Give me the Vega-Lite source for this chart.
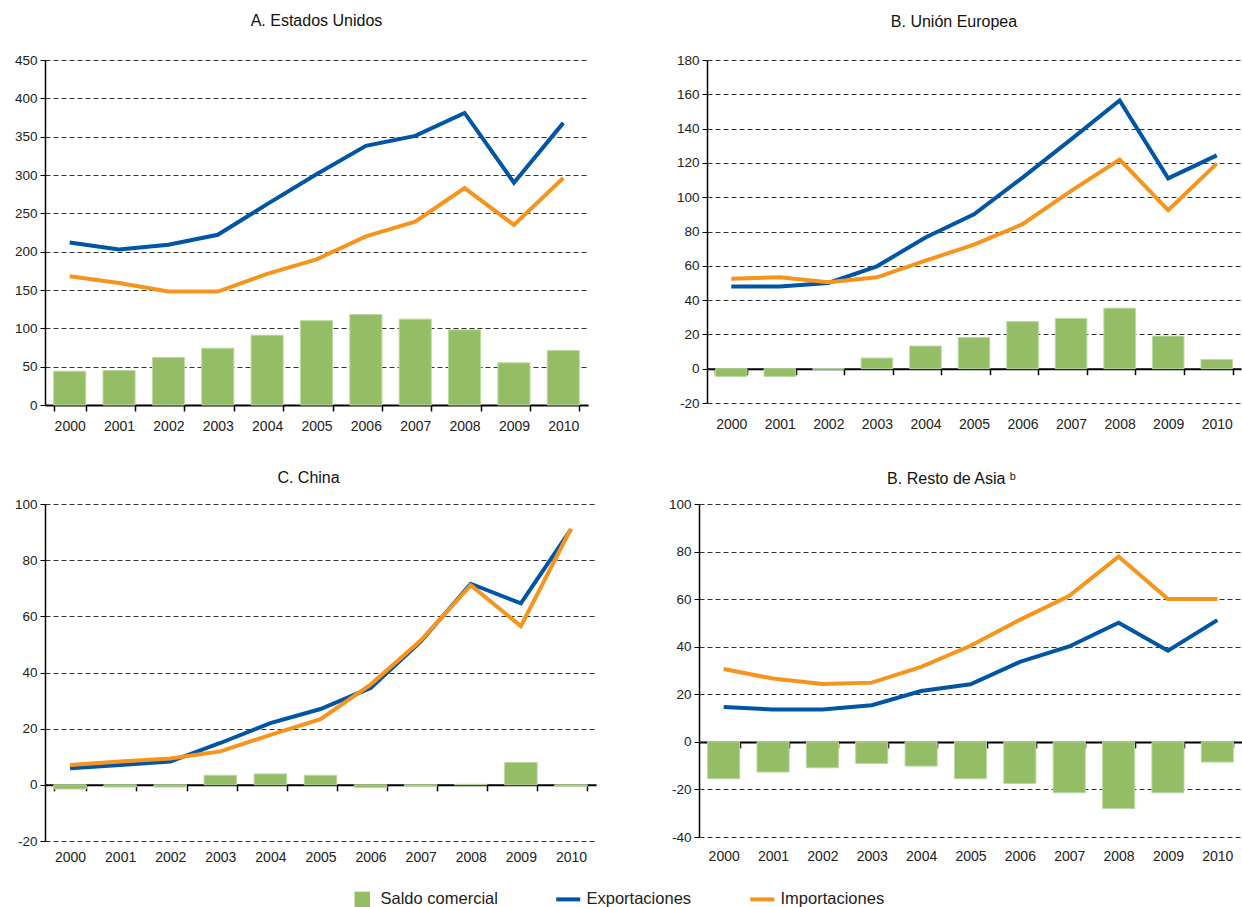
{
  "$schema": "https://vega.github.io/schema/vega-lite/v6.json",
  "background": "white",
  "padding": {"left": 14, "top": 13, "right": 0, "bottom": 5},
  "config": {
    "locale": {"number": {"decimal": ".", "thousands": ",", "grouping": [3], "currency": ["$", ""], "minus": "-"}},
    "font": "Liberation Sans",
    "view": {"stroke": null},
    "axis": {"labelFont": "Liberation Sans", "labelFontSize": 13.5, "labelColor": "#222"},
    "axisY": {"grid": true, "gridDash": [5, 3], "gridColor": "#333", "gridWidth": 1, "domainColor": "#000", "domainWidth": 1.5, "tickColor": "#000", "tickSize": 5, "labelPadding": 3},
    "axisX": {"grid": false, "domainColor": "#000", "domainWidth": 2, "tickColor": "#000", "tickWidth": 1.5, "tickSize": 6, "tickBand": "extent", "labelAngle": 0, "labelFontSize": 14, "zindex": 1},
    "title": {"font": "Liberation Sans", "fontSize": 16, "fontWeight": "normal", "color": "#111", "frame": "group", "anchor": "middle"}
  },
  "datasets": {
    "d": [
      {"p":"A","y":"2000","s":"Saldo comercial","v":44},{"p":"A","y":"2001","s":"Saldo comercial","v":45},{"p":"A","y":"2002","s":"Saldo comercial","v":62},{"p":"A","y":"2003","s":"Saldo comercial","v":74},{"p":"A","y":"2004","s":"Saldo comercial","v":91},{"p":"A","y":"2005","s":"Saldo comercial","v":110},{"p":"A","y":"2006","s":"Saldo comercial","v":118},{"p":"A","y":"2007","s":"Saldo comercial","v":112},{"p":"A","y":"2008","s":"Saldo comercial","v":98},{"p":"A","y":"2009","s":"Saldo comercial","v":55},{"p":"A","y":"2010","s":"Saldo comercial","v":71},
      {"p":"A","y":"2000","s":"Exportaciones","v":212},{"p":"A","y":"2001","s":"Exportaciones","v":203},{"p":"A","y":"2002","s":"Exportaciones","v":209},{"p":"A","y":"2003","s":"Exportaciones","v":222},{"p":"A","y":"2004","s":"Exportaciones","v":262},{"p":"A","y":"2005","s":"Exportaciones","v":301},{"p":"A","y":"2006","s":"Exportaciones","v":338},{"p":"A","y":"2007","s":"Exportaciones","v":351},{"p":"A","y":"2008","s":"Exportaciones","v":381},{"p":"A","y":"2009","s":"Exportaciones","v":290},{"p":"A","y":"2010","s":"Exportaciones","v":368},
      {"p":"A","y":"2000","s":"Importaciones","v":168},{"p":"A","y":"2001","s":"Importaciones","v":159},{"p":"A","y":"2002","s":"Importaciones","v":148},{"p":"A","y":"2003","s":"Importaciones","v":148},{"p":"A","y":"2004","s":"Importaciones","v":171},{"p":"A","y":"2005","s":"Importaciones","v":190},{"p":"A","y":"2006","s":"Importaciones","v":220},{"p":"A","y":"2007","s":"Importaciones","v":239},{"p":"A","y":"2008","s":"Importaciones","v":283},{"p":"A","y":"2009","s":"Importaciones","v":235},{"p":"A","y":"2010","s":"Importaciones","v":296},
      {"p":"B","y":"2000","s":"Saldo comercial","v":-4.5},{"p":"B","y":"2001","s":"Saldo comercial","v":-4.5},{"p":"B","y":"2002","s":"Saldo comercial","v":-0.3},{"p":"B","y":"2003","s":"Saldo comercial","v":6.2},{"p":"B","y":"2004","s":"Saldo comercial","v":13.2},{"p":"B","y":"2005","s":"Saldo comercial","v":18.2},{"p":"B","y":"2006","s":"Saldo comercial","v":27.5},{"p":"B","y":"2007","s":"Saldo comercial","v":29.3},{"p":"B","y":"2008","s":"Saldo comercial","v":35.3},{"p":"B","y":"2009","s":"Saldo comercial","v":19},{"p":"B","y":"2010","s":"Saldo comercial","v":5.4},
      {"p":"B","y":"2000","s":"Exportaciones","v":48},{"p":"B","y":"2001","s":"Exportaciones","v":48},{"p":"B","y":"2002","s":"Exportaciones","v":50},{"p":"B","y":"2003","s":"Exportaciones","v":59.7},{"p":"B","y":"2004","s":"Exportaciones","v":76.5},{"p":"B","y":"2005","s":"Exportaciones","v":90},{"p":"B","y":"2006","s":"Exportaciones","v":111.4},{"p":"B","y":"2007","s":"Exportaciones","v":133.7},{"p":"B","y":"2008","s":"Exportaciones","v":156.4},{"p":"B","y":"2009","s":"Exportaciones","v":111},{"p":"B","y":"2010","s":"Exportaciones","v":124.4},
      {"p":"B","y":"2000","s":"Importaciones","v":52.5},{"p":"B","y":"2001","s":"Importaciones","v":53.3},{"p":"B","y":"2002","s":"Importaciones","v":50.4},{"p":"B","y":"2003","s":"Importaciones","v":53.3},{"p":"B","y":"2004","s":"Importaciones","v":63},{"p":"B","y":"2005","s":"Importaciones","v":72.3},{"p":"B","y":"2006","s":"Importaciones","v":84.3},{"p":"B","y":"2007","s":"Importaciones","v":103.7},{"p":"B","y":"2008","s":"Importaciones","v":121.9},{"p":"B","y":"2009","s":"Importaciones","v":92.4},{"p":"B","y":"2010","s":"Importaciones","v":119.6},
      {"p":"C","y":"2000","s":"Saldo comercial","v":-1.5},{"p":"C","y":"2001","s":"Saldo comercial","v":-0.8},{"p":"C","y":"2002","s":"Saldo comercial","v":-0.8},{"p":"C","y":"2003","s":"Saldo comercial","v":3.4},{"p":"C","y":"2004","s":"Saldo comercial","v":3.9},{"p":"C","y":"2005","s":"Saldo comercial","v":3.4},{"p":"C","y":"2006","s":"Saldo comercial","v":-1},{"p":"C","y":"2007","s":"Saldo comercial","v":-0.5},{"p":"C","y":"2008","s":"Saldo comercial","v":0.2},{"p":"C","y":"2009","s":"Saldo comercial","v":8},{"p":"C","y":"2010","s":"Saldo comercial","v":-0.5},
      {"p":"C","y":"2000","s":"Exportaciones","v":5.9},{"p":"C","y":"2001","s":"Exportaciones","v":7.1},{"p":"C","y":"2002","s":"Exportaciones","v":8.3},{"p":"C","y":"2003","s":"Exportaciones","v":14.9},{"p":"C","y":"2004","s":"Exportaciones","v":22},{"p":"C","y":"2005","s":"Exportaciones","v":27},{"p":"C","y":"2006","s":"Exportaciones","v":34.5},{"p":"C","y":"2007","s":"Exportaciones","v":51},{"p":"C","y":"2008","s":"Exportaciones","v":71.6},{"p":"C","y":"2009","s":"Exportaciones","v":64.6},{"p":"C","y":"2010","s":"Exportaciones","v":91},
      {"p":"C","y":"2000","s":"Importaciones","v":7.1},{"p":"C","y":"2001","s":"Importaciones","v":8.3},{"p":"C","y":"2002","s":"Importaciones","v":9.4},{"p":"C","y":"2003","s":"Importaciones","v":11.9},{"p":"C","y":"2004","s":"Importaciones","v":17.8},{"p":"C","y":"2005","s":"Importaciones","v":23.4},{"p":"C","y":"2006","s":"Importaciones","v":35.7},{"p":"C","y":"2007","s":"Importaciones","v":51.4},{"p":"C","y":"2008","s":"Importaciones","v":71.1},{"p":"C","y":"2009","s":"Importaciones","v":56.5},{"p":"C","y":"2010","s":"Importaciones","v":91.2},
      {"p":"D","y":"2000","s":"Saldo comercial","v":-15.5},{"p":"D","y":"2001","s":"Saldo comercial","v":-12.7},{"p":"D","y":"2002","s":"Saldo comercial","v":-10.9},{"p":"D","y":"2003","s":"Saldo comercial","v":-9.1},{"p":"D","y":"2004","s":"Saldo comercial","v":-10.2},{"p":"D","y":"2005","s":"Saldo comercial","v":-15.5},{"p":"D","y":"2006","s":"Saldo comercial","v":-17.5},{"p":"D","y":"2007","s":"Saldo comercial","v":-21.4},{"p":"D","y":"2008","s":"Saldo comercial","v":-28},{"p":"D","y":"2009","s":"Saldo comercial","v":-21.4},{"p":"D","y":"2010","s":"Saldo comercial","v":-8.5},
      {"p":"D","y":"2000","s":"Exportaciones","v":14.7},{"p":"D","y":"2001","s":"Exportaciones","v":13.6},{"p":"D","y":"2002","s":"Exportaciones","v":13.6},{"p":"D","y":"2003","s":"Exportaciones","v":15.4},{"p":"D","y":"2004","s":"Exportaciones","v":21.4},{"p":"D","y":"2005","s":"Exportaciones","v":24.2},{"p":"D","y":"2006","s":"Exportaciones","v":33.6},{"p":"D","y":"2007","s":"Exportaciones","v":40.1},{"p":"D","y":"2008","s":"Exportaciones","v":50.1},{"p":"D","y":"2009","s":"Exportaciones","v":38.3},{"p":"D","y":"2010","s":"Exportaciones","v":51.2},
      {"p":"D","y":"2000","s":"Importaciones","v":30.6},{"p":"D","y":"2001","s":"Importaciones","v":26.6},{"p":"D","y":"2002","s":"Importaciones","v":24.3},{"p":"D","y":"2003","s":"Importaciones","v":24.9},{"p":"D","y":"2004","s":"Importaciones","v":31.5},{"p":"D","y":"2005","s":"Importaciones","v":40.4},{"p":"D","y":"2006","s":"Importaciones","v":51.3},{"p":"D","y":"2007","s":"Importaciones","v":61.4},{"p":"D","y":"2008","s":"Importaciones","v":77.9},{"p":"D","y":"2009","s":"Importaciones","v":60.1},{"p":"D","y":"2010","s":"Importaciones","v":60.1}
    ]
  },
  "data": {"name": "d"},
  "spacing": 37,
  "resolve": {"scale": {"color": "shared"}, "legend": {"color": "shared"}},
  "vconcat": [
    {
      "bounds": "flush",
      "spacing": 119,
      "hconcat": [
        {
          "title": {"text": "A. Estados Unidos", "offset": 24},
          "width": 543, "height": 345,
          "transform": [{"filter": "datum.p === 'A'"}],
          "encoding": {
            "x": {"field": "y", "type": "ordinal", "title": null, "scale": {"type": "band", "paddingInner": 0.35, "paddingOuter": 0.175}, "axis": {"offset": 0, "labelPadding": 8}},
            "y": {"field": "v", "type": "quantitative", "title": null, "scale": {"domain": [0, 450], "nice": false, "zero": false}, "axis": {"values": [0, 50, 100, 150, 200, 250, 300, 350, 400, 450]}},
            "color": {"field": "s", "type": "nominal", "scale": {"domain": ["Saldo comercial", "Exportaciones", "Importaciones"], "range": ["#95BD66", "#0055A5", "#F7941D"]},
              "legend": {"orient": "none", "legendX": 309, "legendY": 831, "direction": "horizontal", "title": null, "labelFont": "Liberation Sans", "labelFontSize": 16.5, "labelColor": "#222", "columnPadding": 50, "labelOffset": 10,
                "encode": {"symbols": {"update": {
                  "shape": {"signal": "datum.value === 'Saldo comercial' ? 'square' : 'stroke'"},
                  "size": {"signal": "datum.value === 'Saldo comercial' ? 240 : 576"},
                  "fill": {"scale": "color", "field": "value"},
                  "stroke": {"scale": "color", "field": "value"},
                  "strokeWidth": {"signal": "datum.value === 'Saldo comercial' ? 0 : 4"},
                  "opacity": {"value": 1}
                }}}}}
          },
          "layer": [
            {"transform": [{"filter": "datum.s === 'Saldo comercial'"}], "mark": {"type": "bar", "stroke": "#BBD9A0", "strokeWidth": 1}},
            {"transform": [{"filter": "datum.s !== 'Saldo comercial'"}], "mark": {"type": "line", "strokeWidth": 4}}
          ]
        },
        {
          "title": {"text": "B. Unión Europea", "offset": 23, "dx": -20},
          "width": 534, "height": 343,
          "transform": [{"filter": "datum.p === 'B'"}],
          "encoding": {
            "x": {"field": "y", "type": "ordinal", "title": null, "scale": {"type": "band", "paddingInner": 0.35, "paddingOuter": 0.175}, "axis": {"offset": -34.3, "labelPadding": 43}},
            "y": {"field": "v", "type": "quantitative", "title": null, "scale": {"domain": [-20, 180], "nice": false, "zero": false}, "axis": {"values": [-20, 0, 20, 40, 60, 80, 100, 120, 140, 160, 180]}},
            "color": {"field": "s", "type": "nominal"}
          },
          "layer": [
            {"transform": [{"filter": "datum.s === 'Saldo comercial'"}], "mark": {"type": "bar", "stroke": "#BBD9A0", "strokeWidth": 1}},
            {"transform": [{"filter": "datum.s !== 'Saldo comercial'"}], "mark": {"type": "line", "strokeWidth": 4}}
          ]
        }
      ]
    },
    {
      "bounds": "flush",
      "spacing": 103,
      "hconcat": [
        {
          "title": {"text": "C. China", "offset": 11, "dx": -12},
          "width": 551, "height": 337,
          "transform": [{"filter": "datum.p === 'C'"}],
          "encoding": {
            "x": {"field": "y", "type": "ordinal", "title": null, "scale": {"type": "band", "paddingInner": 0.35, "paddingOuter": 0.175}, "axis": {"offset": -56.2, "labelPadding": 60}},
            "y": {"field": "v", "type": "quantitative", "title": null, "scale": {"domain": [-20, 100], "nice": false, "zero": false}, "axis": {"values": [-20, 0, 20, 40, 60, 80, 100]}},
            "color": {"field": "s", "type": "nominal"}
          },
          "layer": [
            {"transform": [{"filter": "datum.s === 'Saldo comercial'"}], "mark": {"type": "bar", "stroke": "#BBD9A0", "strokeWidth": 1}},
            {"transform": [{"filter": "datum.s !== 'Saldo comercial'"}], "mark": {"type": "line", "strokeWidth": 4}}
          ]
        },
        {
          "title": {"text": "B. Resto de Asia ᵇ", "offset": 10, "dx": -19},
          "width": 543, "height": 333,
          "transform": [{"filter": "datum.p === 'D'"}],
          "encoding": {
            "x": {"field": "y", "type": "ordinal", "title": null, "scale": {"type": "band", "paddingInner": 0.35, "paddingOuter": 0.175}, "axis": {"offset": -95.1, "labelPadding": 102}},
            "y": {"field": "v", "type": "quantitative", "title": null, "scale": {"domain": [-40, 100], "nice": false, "zero": false}, "axis": {"values": [-40, -20, 0, 20, 40, 60, 80, 100]}},
            "color": {"field": "s", "type": "nominal"}
          },
          "layer": [
            {"transform": [{"filter": "datum.s === 'Saldo comercial'"}], "mark": {"type": "bar", "stroke": "#BBD9A0", "strokeWidth": 1}},
            {"transform": [{"filter": "datum.s !== 'Saldo comercial'"}], "mark": {"type": "line", "strokeWidth": 4}}
          ]
        }
      ]
    }
  ]
}
